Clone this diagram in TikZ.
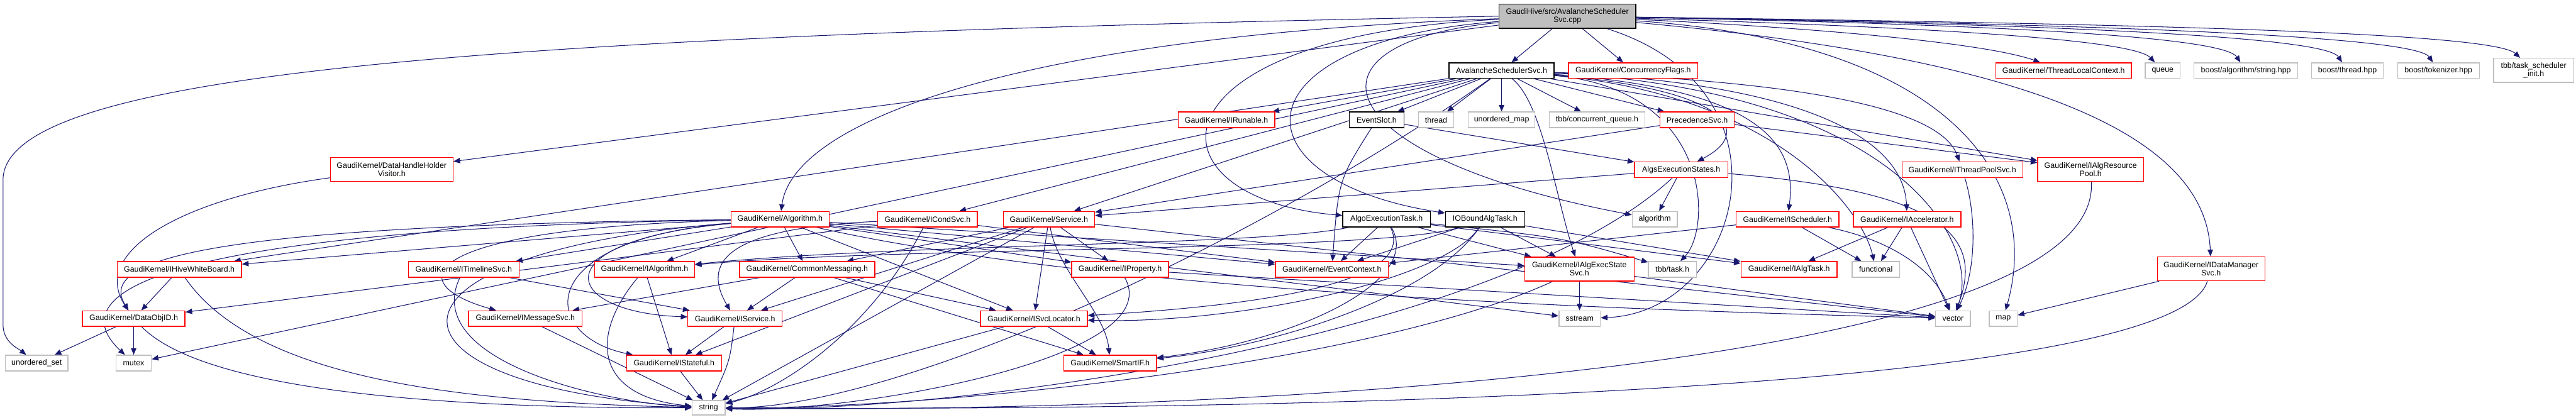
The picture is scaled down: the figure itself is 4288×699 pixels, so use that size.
\documentclass[tikz,border=0pt]{standalone}
\usepackage{fontspec}
\setmainfont{Liberation Sans}
\usetikzlibrary{arrows.meta, backgrounds}

\definecolor{edgeblue}{HTML}{191970}
\definecolor{sysgray}{HTML}{BFBFBF}

\begin{document}
\begin{tikzpicture}[x=0.5pt, y=-0.5pt, >={Triangle[length=5.5pt, width=4.5pt]},
    font=\fontsize{6.5}{6.8}\selectfont,
    hfile/.style={draw=black, fill=white, line width=0.75pt, inner sep=0pt, align=center, minimum height=13pt},
    twoline/.style={minimum height=20pt},
    truncfile/.style={hfile, draw=red},
    sysfile/.style={hfile, draw=sysgray},
    mainfile/.style={hfile, fill=sysgray},
    inc/.style={->, draw=edgeblue, line width=0.55pt}]
\useasboundingbox (0,0) rectangle (4288,699);

% rank 0
\node[mainfile, twoline, minimum width=114pt] (root) at (2609,27) {GaudiHive/src/AvalancheScheduler\\Svc.cpp};

% rank 1
\node[hfile, minimum width=87.5pt] (schedh) at (2499.5,117.5) {AvalancheSchedulerSvc.h};
\node[truncfile, minimum width=107.5pt] (concflags) at (2718.5,117.5) {GaudiKernel/ConcurrencyFlags.h};
\node[truncfile, minimum width=113pt] (tlctx) at (3435,117.5) {GaudiKernel/ThreadLocalContext.h};
\node[sysfile, minimum width=29pt] (queue) at (3600,117.5) {queue};
\node[sysfile, minimum width=86.5pt] (boostalg) at (3738.5,117.5) {boost/algorithm/string.hpp};
\node[sysfile, minimum width=59.5pt] (boostthr) at (3907.5,117.5) {boost/thread.hpp};
\node[sysfile, minimum width=68pt] (boosttok) at (4059,117.5) {boost/tokenizer.hpp};
\node[sysfile, twoline, minimum width=66.5pt] (tbbinit) at (4217.5,117) {tbb/task\_scheduler\\\_init.h};
\node[truncfile, twoline, minimum width=102pt] (dhvisitor) at (652,282) {GaudiKernel/DataHandleHolder\\Visitor.h};
\node[truncfile, twoline, minimum width=89.5pt] (idatamgr) at (3680.5,447.5) {GaudiKernel/IDataManager\\Svc.h};

% rank 2
\node[truncfile, minimum width=80.5pt] (irunable) at (2041.5,199.5) {GaudiKernel/IRunable.h};
\node[hfile, minimum width=45.5pt] (evslot) at (2291.5,199.5) {EventSlot.h};
\node[sysfile, minimum width=29.5pt] (thread) at (2390.5,199.5) {thread};
\node[sysfile, minimum width=55.5pt] (umap) at (2499.5,199.5) {unordered\_map};
\node[sysfile, minimum width=79.5pt] (tbbqueue) at (2658.5,199.5) {tbb/concurrent\_queue.h};
\node[truncfile, minimum width=62pt] (precsvc) at (2825,199.5) {PrecedenceSvc.h};

% rank 3
\node[truncfile, minimum width=77.5pt] (aexecst) at (2798.5,282.5) {AlgsExecutionStates.h};
\node[truncfile, minimum width=100.5pt] (ithpool) at (3266.5,282.5) {GaudiKernel/IThreadPoolSvc.h};
\node[truncfile, twoline, minimum width=88pt] (iresppool) at (3480,282) {GaudiKernel/IAlgResource\\Pool.h};

% rank 4
\node[truncfile, minimum width=81.5pt] (algorithm) at (1298.5,365) {GaudiKernel/Algorithm.h};
\node[truncfile, minimum width=83pt] (icondsvc) at (1544,365) {GaudiKernel/ICondSvc.h};
\node[truncfile, minimum width=76pt] (service) at (1746,365) {GaudiKernel/Service.h};
\node[hfile, minimum width=73pt] (aetask) at (2308,365) {AlgoExecutionTask.h};
\node[hfile, minimum width=66pt] (iotask) at (2472,365) {IOBoundAlgTask.h};
\node[sysfile, minimum width=37.5pt] (stdalgo) at (2754.5,365) {algorithm};
\node[truncfile, minimum width=85.5pt] (isched) at (2975.5,365) {GaudiKernel/IScheduler.h};
\node[truncfile, minimum width=89.5pt] (iaccel) at (3174.5,365) {GaudiKernel/IAccelerator.h};

% rank 5
\node[truncfile, minimum width=103.5pt] (iwhiteb) at (298.5,448.5) {GaudiKernel/IHiveWhiteBoard.h};
\node[truncfile, minimum width=92pt] (itimeline) at (772,448.5) {GaudiKernel/ITimelineSvc.h};
\node[truncfile, minimum width=83pt] (ialgo) at (1073,448.5) {GaudiKernel/IAlgorithm.h};
\node[truncfile, minimum width=112.5pt] (commsg) at (1343.5,448.5) {GaudiKernel/CommonMessaging.h};
\node[truncfile, minimum width=80.5pt] (iprop) at (1864.5,448.5) {GaudiKernel/IProperty.h};
\node[truncfile, minimum width=94pt] (evctx) at (2217,448.5) {GaudiKernel/EventContext.h};
\node[truncfile, twoline, minimum width=91pt] (iexecst) at (2629,448) {GaudiKernel/IAlgExecState\\Svc.h};
\node[sysfile, minimum width=40pt] (tbbtask) at (2784,448.5) {tbb/task.h};
\node[truncfile, minimum width=80pt] (ialgtask) at (2978,448.5) {GaudiKernel/IAlgTask.h};
\node[sysfile, minimum width=39.5pt] (functional) at (3122.5,448.5) {functional};

% rank 6
\node[truncfile, minimum width=85.5pt] (objid) at (222.5,530.5) {GaudiKernel/DataObjID.h};
\node[truncfile, minimum width=94.5pt] (imsgsvc) at (874.5,530.5) {GaudiKernel/IMessageSvc.h};
\node[truncfile, minimum width=78.5pt] (iservice) at (1223.5,530.5) {GaudiKernel/IService.h};
\node[truncfile, minimum width=89pt] (isvcloc) at (1721,530.5) {GaudiKernel/ISvcLocator.h};
\node[sysfile, minimum width=34.5pt] (sstream) at (2629.5,530.5) {sstream};
\node[sysfile, minimum width=29pt] (vector) at (3251,530.5) {vector};
\node[sysfile, minimum width=23.5pt] (map) at (3334.5,530.5) {map};

% rank 7
\node[sysfile, minimum width=52pt] (uset) at (61,604.5) {unordered\_set};
\node[sysfile, minimum width=29.5pt] (mutex) at (222.5,604.5) {mutex};
\node[truncfile, minimum width=79pt] (istateful) at (1122,604.5) {GaudiKernel/IStateful.h};
\node[truncfile, minimum width=77pt] (smartif) at (1848,604.5) {GaudiKernel/SmartIF.h};

% rank 8
\node[sysfile, minimum width=27.5pt, minimum height=12pt] (string) at (1179.5,679) {string};

\begin{scope}[on background layer]
% from the .cpp file
\draw[inc] (root) -- (schedh);
\draw[inc] (root) -- (concflags);
\draw[inc] (root) .. controls (3000,45) and (3300,70) .. (tlctx);
\draw[inc] (root) .. controls (3200,45) and (3550,65) .. (queue);
\draw[inc] (root) .. controls (3300,40) and (3700,60) .. (boostalg);
\draw[inc] (root) .. controls (3400,40) and (3870,60) .. (boostthr);
\draw[inc] (root) .. controls (3500,40) and (4020,60) .. (boosttok);
\draw[inc] (root) .. controls (3600,40) and (4150,55) .. (tbbinit);
\draw[inc] (root) .. controls (3300,90) and (3670,200) .. (idatamgr);
\draw[inc] (root) .. controls (3250,70) and (3400,300) .. (map);
\draw[inc] (root) .. controls (3000,150) and (2900,520) .. (sstream);
\draw[inc] (root) -- (dhvisitor);
\draw[inc] (root) .. controls (1700,60) and (1320,200) .. (algorithm);
\draw[inc] (root.west) .. controls (800,60) and (5,120) .. (5,300) -- (5,540) .. controls (5,570) and (30,580) .. (uset);
\draw[inc] (root) .. controls (1900,60) and (1900,330) .. (aetask);
\draw[inc] (root) .. controls (2050,70) and (2050,300) .. (iotask);
\draw[inc] (root) .. controls (2150,70) and (2200,260) .. (stdalgo);

% from AvalancheSchedulerSvc.h
\draw[inc] (schedh) -- (irunable);
\draw[inc] (schedh) -- (evslot);
\draw[inc] (schedh) -- (thread);
\draw[inc] (schedh) -- (umap);
\draw[inc] (schedh) -- (tbbqueue);
\draw[inc] (schedh) -- (precsvc);
\draw[inc] (schedh) .. controls (2880,150) and (2920,220) .. (aexecst);
\draw[inc] (schedh) .. controls (3000,135) and (3230,180) .. (ithpool);
\draw[inc] (schedh) -- (iresppool);
\draw[inc] (schedh) .. controls (2950,150) and (2990,250) .. (isched);
\draw[inc] (schedh) .. controls (3050,140) and (3170,250) .. (iaccel);
\draw[inc] (schedh) .. controls (2960,160) and (3100,350) .. (functional);
\draw[inc] (schedh) .. controls (3150,150) and (3300,400) .. (vector);
\draw[inc] (schedh) -- (icondsvc);
\draw[inc] (schedh) -- (service);
\draw[inc] (schedh) -- (iwhiteb);
\draw[inc] (schedh) -- (mutex);
\draw[inc] (schedh) .. controls (2567,170) and (2590,330) .. (iexecst);
\draw[inc] (schedh) .. controls (2850,150) and (2850,380) .. (tbbtask);
\draw[inc] (schedh) .. controls (2100,400) and (1500,680) .. (string);

% second and third rank
\draw[inc] (evslot) .. controls (2228,300) .. (evctx);
\draw[inc] (evslot) -- (aexecst);
\draw[inc] (precsvc) -- (iresppool);
\draw[inc] (precsvc) -- (service);
\draw[inc] (aexecst) -- (stdalgo);
\draw[inc] (aexecst) -- (service);
\draw[inc] (aexecst) .. controls (3250,320) and (3300,400) .. (vector);
\draw[inc] (aexecst) .. controls (2500,560) and (1600,690) .. (string);
\draw[inc] (ithpool) .. controls (3290,360) and (3290,450) .. (vector);
\draw[inc] (iresppool) .. controls (3500,620) and (2000,690) .. (string);
\draw[inc] (idatamgr) -- (map);
\draw[inc] (idatamgr) .. controls (3620,650) and (2200,685) .. (string);
\draw[inc] (dhvisitor) .. controls (300,330) and (150,420) .. (objid);

% Algorithm.h
\draw[inc] (algorithm) -- (ialgo);
\draw[inc] (algorithm) -- (commsg);
\draw[inc] (algorithm) -- (itimeline);
\draw[inc] (algorithm) -- (iwhiteb);
\draw[inc] (algorithm) .. controls (350,375) and (160,430) .. (objid);
\draw[inc] (algorithm) .. controls (300,380) and (90,480) .. (mutex);
\draw[inc] (algorithm) .. controls (700,380) and (660,470) .. (imsgsvc);
\draw[inc] (algorithm) .. controls (900,400) and (930,520) .. (iservice);
\draw[inc] (algorithm) .. controls (880,400) and (900,560) .. (istateful);
\draw[inc] (algorithm) -- (isvcloc);
\draw[inc] (algorithm) -- (iprop);
\draw[inc] (algorithm) -- (evctx);
\draw[inc] (algorithm) -- (iexecst);
\draw[inc] (algorithm) -- (sstream);
\draw[inc] (algorithm) .. controls (600,420) and (600,640) .. (string);
\draw[inc] (algorithm) .. controls (1900,500) and (2900,520) .. (vector);

% ICondSvc.h and Service.h
\draw[inc] (icondsvc) -- (objid);
\draw[inc] (icondsvc) .. controls (1200,380) and (1170,440) .. (iservice);
\draw[inc] (icondsvc) -- (evctx);
\draw[inc] (icondsvc) .. controls (1450,550) and (1300,650) .. (string);
\draw[inc] (service) -- (commsg);
\draw[inc] (service) -- (iservice);
\draw[inc] (service) -- (istateful);
\draw[inc] (service) -- (isvcloc);
\draw[inc] (service) .. controls (1760,450) and (1840,520) .. (smartif);
\draw[inc] (service) -- (iprop);
\draw[inc] (service) -- (string);
\draw[inc] (service) -- (vector);

% interfaces
\draw[inc] (commsg) -- (imsgsvc);
\draw[inc] (commsg) -- (iservice);
\draw[inc] (commsg) -- (isvcloc);
\draw[inc] (commsg) -- (smartif);
\draw[inc] (ialgo) -- (istateful);
\draw[inc] (ialgo) .. controls (980,560) and (990,660) .. (string);
\draw[inc] (iservice) -- (istateful);
\draw[inc] (iservice) .. controls (1215,600) .. (string);
\draw[inc] (istateful) -- (string);
\draw[inc] (itimeline) -- (iservice);
\draw[inc] (itimeline) .. controls (700,600) and (1000,670) .. (string);
\draw[inc] (imsgsvc) -- (string);
\draw[inc] (iwhiteb) -- (objid);
\draw[inc] (iwhiteb) .. controls (430,640) and (800,670) .. (string);
\draw[inc] (objid) -- (uset);
\draw[inc] (objid) -- (mutex);
\draw[inc] (objid) .. controls (350,660) and (800,680) .. (string);
\draw[inc] (iprop) .. controls (1950,600) and (1400,690) .. (string);
\draw[inc] (iprop) -- (vector);
\draw[inc] (isvcloc) -- (smartif);
\draw[inc] (isvcloc) -- (string);
\draw[inc] (iexecst) -- (sstream);
\draw[inc] (iexecst) .. controls (2300,600) and (1600,680) .. (string);
\draw[inc] (iexecst) -- (vector);
\draw[inc] (isched) -- (evctx);
\draw[inc] (isched) -- (functional);
\draw[inc] (isched) .. controls (3150,400) and (3220,450) .. (vector);
\draw[inc] (iaccel) -- (ialgtask);
\draw[inc] (iaccel) -- (functional);
\draw[inc] (iaccel) -- (vector);

% tasks
\draw[inc] (aetask) -- (evctx);
\draw[inc] (aetask) -- (iexecst);
\draw[inc] (aetask) .. controls (2100,410) and (1500,405) .. (ialgo);
\draw[inc] (aetask) .. controls (2345,440) and (2250,500) .. (isvcloc);
\draw[inc] (aetask) .. controls (2370,470) and (2150,570) .. (smartif);
\draw[inc] (aetask) -- (ialgtask);
\draw[inc] (aetask) .. controls (2600,395) .. (tbbtask);
\draw[inc] (iotask) -- (evctx);
\draw[inc] (iotask) -- (iexecst);
\draw[inc] (iotask) .. controls (2300,420) and (1500,410) .. (ialgo);
\draw[inc] (iotask) .. controls (2400,470) and (2050,540) .. (isvcloc);
\draw[inc] (iotask) .. controls (2380,500) and (2100,580) .. (smartif);
\draw[inc] (iotask) -- (ialgtask);
\end{scope}
\end{tikzpicture}
\end{document}
